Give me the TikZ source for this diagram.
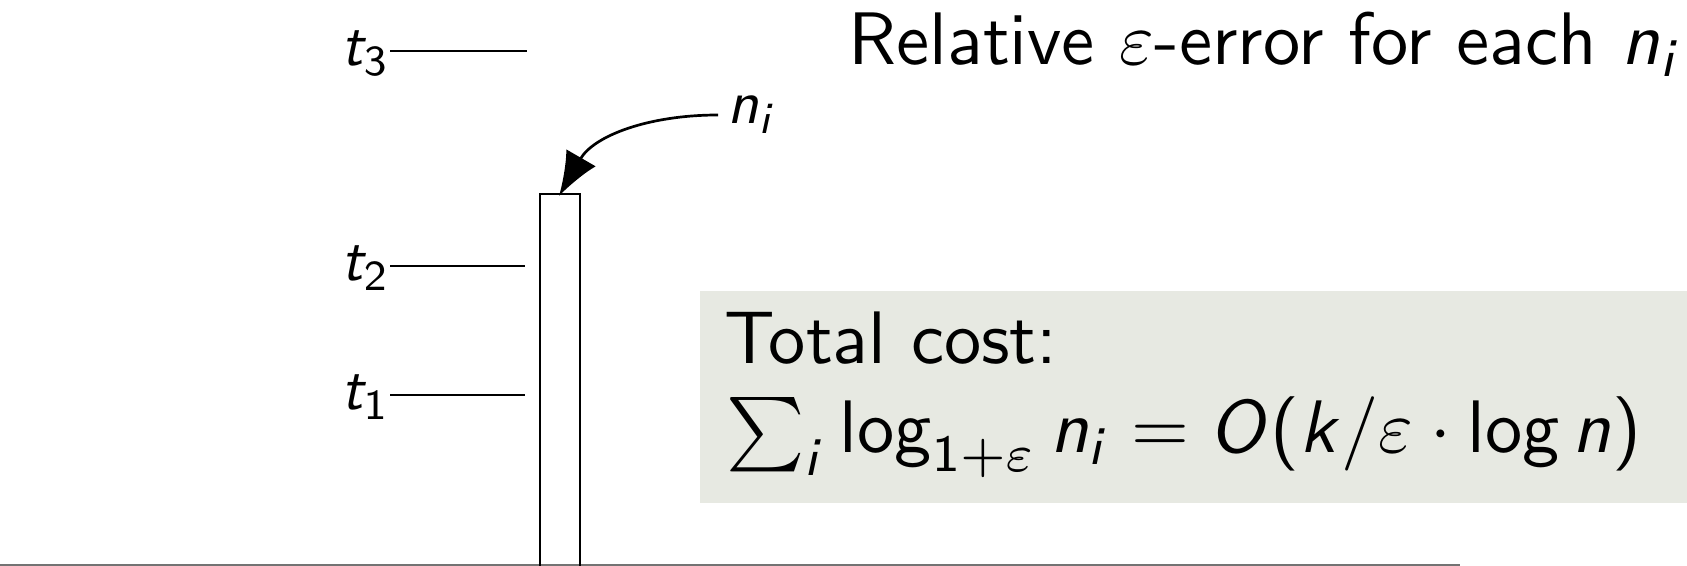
\documentclass[tikz,border=0pt]{standalone}
\usepackage{amsmath}
\usepackage{graphicx}
\usetikzlibrary{arrows.meta}
\DeclareMathAlphabet{\msi}{OT1}{cmss}{m}{sl}
\DeclareMathAlphabet{\msu}{OT1}{cmss}{m}{n}
\newcommand\slog{\mathop{\msu{log}}\nolimits}
\newcommand\lpar{\mathopen{\mbox{\sffamily(}}}
\newcommand\rpar{\mathclose{\mbox{\sffamily)}}}
\newcommand\bigtxt[1]{\scalebox{3.72}{#1}}
\newcommand\labtxt[1]{\scalebox{3.05}{#1}}
\definecolor{boxfill}{RGB}{231,233,226}
\definecolor{groundgray}{RGB}{115,115,115}
\begin{document}
\begin{tikzpicture}[x=0.5pt,y=-0.5pt,line width=1.35pt,
  big/.style={font=\fontsize{10}{12}\selectfont\sffamily,inner sep=0pt},
  lab/.style={font=\fontsize{10}{12}\selectfont\sffamily,inner sep=0pt},
  tick/.style={line width=1.35pt},
  pointer/.style={line width=1.35pt,-{Latex[length=22pt,width=17pt]}}]
\useasboundingbox (0,0) rectangle (1687,566);
\fill[boxfill] (700,291) rectangle (1700,503);
% ground line
\coordinate (g0) at (0,565.5);
\coordinate (g1) at (1460,565.5);
\draw[groundgray,line width=1.5pt] (g0) -- (g1);
% bar
\coordinate (barbl) at (540,640);
\coordinate (bartr) at (580,194);
\draw (barbl) rectangle (bartr);
\coordinate (bartop) at (559,196);
% thresholds
\coordinate (l3a) at (390,51);  \coordinate (l3b) at (527,51);
\coordinate (l2a) at (390,266); \coordinate (l2b) at (525,266);
\coordinate (l1a) at (390,395); \coordinate (l1b) at (525,395);
\draw[tick] (l3a) -- (l3b);
\draw[tick] (l2a) -- (l2b);
\draw[tick] (l1a) -- (l1b);
\node[lab,anchor=base east] (t3) at (391,66) {\labtxt{$\msi{t}_{\msu{3}}$}};
\node[lab,anchor=base east] (t2) at (391,281) {\labtxt{$\msi{t}_{\msu{2}}$}};
\node[lab,anchor=base east] (t1) at (391,410) {\labtxt{$\msi{t}_{\msu{1}}$}};
% n_i pointer
\node[lab,inner xsep=4pt,anchor=west] (ni) at (718,115) {\labtxt{$\msi{n}_{\msi{i}}$}};
\draw[pointer] (ni.west) to[out=180,in=60] (bartop);
% texts
\node[big,anchor=base west] (rel) at (847,65) {\bigtxt{Relative $\varepsilon$-error for each $\msi{n}_{\msi{i}}$}};
\node[big,anchor=base west] (tc1) at (723,364) {\bigtxt{Total cost:}};
\node[big,anchor=base west] (tc2) at (725,453) {\bigtxt{$\sum_{\msi{i}} \slog_{\msu{1}+\varepsilon} \msi{n}_{\msi{i}} = \msi{O}\lpar \msi{k}/\varepsilon\cdot\slog\msi{n}\rpar$}};
\end{tikzpicture}
\end{document}
